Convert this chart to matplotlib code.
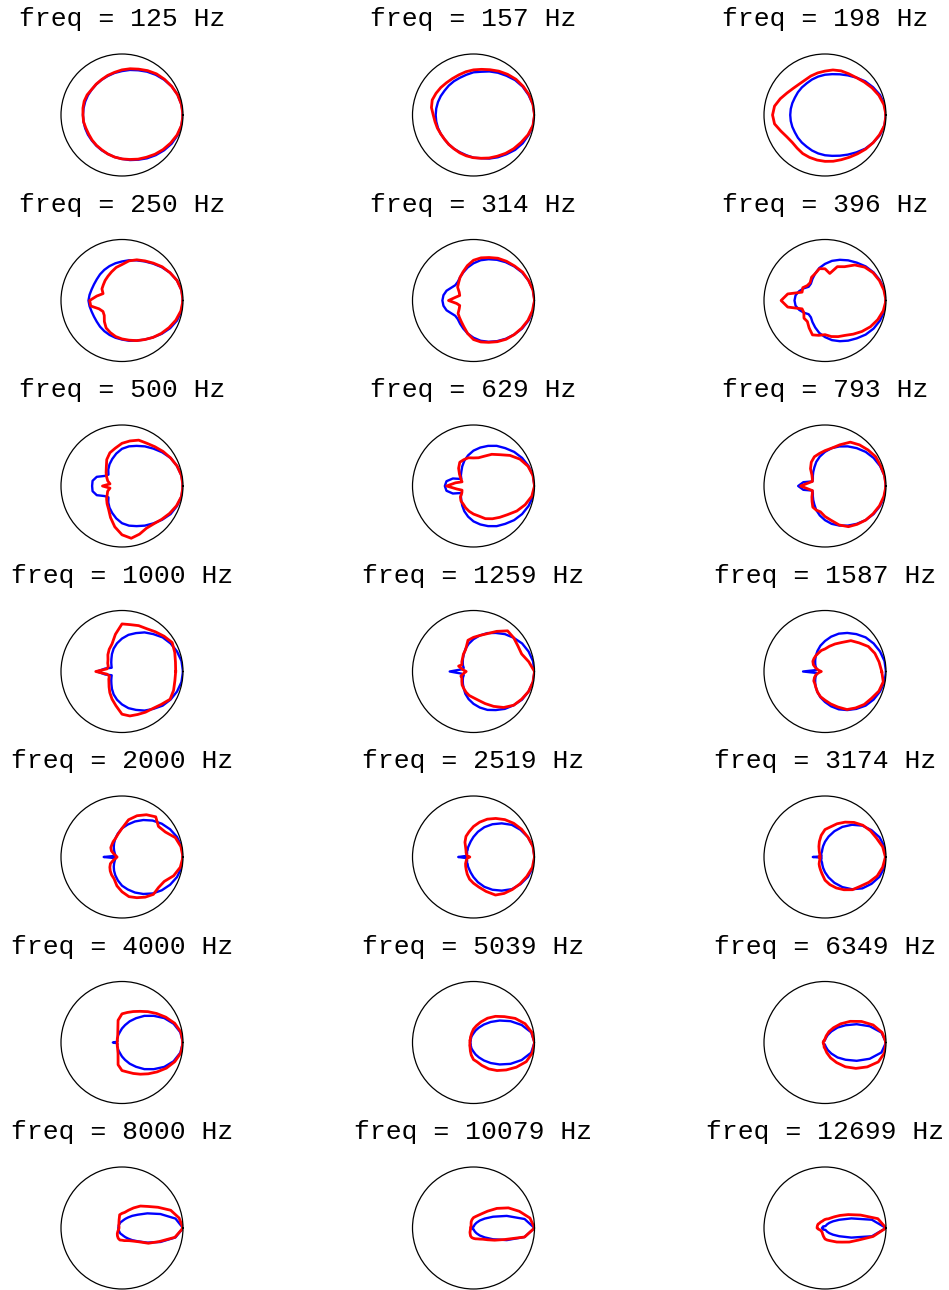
"""Directivity grid: model (blue) vs measurement (red), 7x3 polar panels."""
import numpy as np
import matplotlib; matplotlib.use("Agg")
import matplotlib.pyplot as plt

freqs = [125, 157, 198, 250, 314, 396, 500, 629, 793, 1000, 1259, 1587,
         2000, 2519, 3174, 4000, 5039, 6349, 8000, 10079, 12699]

# angle grids (deg): blue is symmetric, read on 0..180 and mirrored
half_deg = [0, 10, 20, 30, 40, 50, 60, 70, 80, 90, 100, 110, 120, 130, 140, 150, 160, 170, 180]
full_deg = [0, 10, 20, 30, 40, 50, 60, 70, 80, 90, 100, 110, 120, 130, 140, 150, 160, 170,
            180, 190, 200, 210, 220, 230, 240, 250, 260, 270, 280, 290, 300, 310, 320, 330, 340, 350]

# model (blue), normalised radius on 0..180 deg
b125 = [1.0, .99, .97, .94, .90, .86, .82, .78, .75, .72, .70, .68, .667, .656, .648, .645, .642, .64, .64]
b157 = [1.0, .99, .96, .93, .89, .84, .80, .76, .72, .70, .67, .65, .64, .63, .62, .62, .62, .62, .62]
b198 = [1.0, .99, .96, .91, .86, .80, .75, .71, .68, .66, .64, .62, .60, .59, .58, .57, .57, .57, .57]
b250 = [1.0, .99, .96, .91, .85, .79, .74, .70, .67, .64, .62, .60, .58, .56, .54, .53, .53, .54, .55]
b314 = [1.0, .99, .96, .92, .87, .82, .77, .72, .67, .61, .55, .49, .44, .40, .39, .42, .47, .50, .51]
b396 = [1.0, .99, .96, .92, .87, .81, .76, .71, .66, .60, .54, .47, .41, .36, .35, .40, .45, .49, .50]
b500 = [1.0, .99, .96, .92, .86, .80, .75, .70, .66, .61, .54, .47, .41, .35, .29, .33, .44, .49, .49]
b629 = [1.0, .99, .96, .92, .87, .81, .76, .70, .64, .58, .51, .44, .37, .31, .27, .23, .36, .45, .47]
b793 = [1.0, .99, .96, .92, .87, .81, .75, .69, .63, .56, .49, .42, .35, .30, .26, .23, .22, .36, .44]
b1000 = [1.0, .99, .96, .92, .87, .80, .74, .67, .61, .54, .47, .40, .33, .27, .23, .20, .18, .28, .41]
b1259 = [1.0, .99, .96, .92, .86, .80, .73, .67, .60, .53, .46, .39, .32, .27, .23, .20, .17, .20, .39]
b1587 = [1.0, .99, .96, .92, .87, .80, .73, .66, .58, .50, .43, .36, .30, .25, .21, .18, .15, .14, .36]
b2000 = [1.0, .99, .96, .91, .85, .78, .70, .62, .54, .47, .39, .32, .26, .21, .17, .14, .12, .11, .30]
b2519 = [1.0, .99, .95, .89, .82, .72, .62, .52, .42, .33, .26, .21, .18, .15, .14, .12, .12, .11, .25]
b3174 = [1.0, .99, .95, .88, .80, .69, .57, .45, .34, .25, .18, .13, .10, .09, .08, .07, .06, .06, .20]
b4000 = [1.0, .97, .90, .80, .68, .57, .46, .37, .29, .23, .18, .15, .13, .11, .10, .09, .08, .08, .15]
b5039 = [1.0, .96, .84, .70, .56, .44, .34, .26, .20, .15, .12, .10, .08, .07, .06, .06, .05, .05, .05]
b6349 = [1.0, .94, .78, .60, .44, .32, .21, .13, .07, .04, .03, .03, .03, .03, .03, .03, .03, .03, .03]
b8000 = [1.0, .89, .67, .48, .34, .26, .20, .16, .13, .11, .10, .09, .08, .07, .07, .06, .06, .06, .06]
b10079 = [1.0, .85, .58, .37, .24, .16, .10, .06, .03, .02, .02, .02, .02, .02, .02, .02, .02, .02, .02]
b12699 = [1.0, .78, .46, .27, .17, .11, .07, .04, .03, .03, .03, .03, .03, .03, .04, .04, .04, .04, .05]

# measurement (red), normalised radius on 0..350 deg
r125 = [1.0, .99, .97, .94, .91, .88, .84, .80, .77, .74, .71, .69, .67, .66, .65, .66, .66, .65,
        .64, .64, .63, .63, .64, .65, .66, .68, .70, .72, .74, .77, .80, .84, .88, .92, .96, .99]
r157 = [1.0, .99, .97, .94, .91, .87, .83, .79, .76, .74, .72, .70, .69, .69, .70, .71, .72, .70,
        .66, .64, .63, .62, .62, .63, .64, .66, .68, .70, .72, .75, .78, .82, .86, .90, .95, .99]
r198 = [1.0, .98, .94, .89, .84, .80, .78, .77, .75, .72, .70, .68, .66, .66, .68, .72, .78, .84,
        .86, .84, .77, .72, .70, .71, .73, .74, .75, .76, .77, .78, .80, .83, .87, .91, .95, .99]
r250 = [1.0, .99, .96, .91, .86, .80, .75, .71, .66, .59, .55, .50, .46, .43, .40, .38, .33, .42,
        .53, .52, .40, .36, .38, .45, .52, .56, .60, .63, .66, .70, .74, .79, .84, .89, .94, .98]
r314 = [1.0, .99, .96, .93, .88, .84, .80, .75, .71, .66, .58, .50, .44, .38, .34, .27, .24, .30,
        .41, .28, .24, .27, .33, .36, .40, .46, .55, .64, .69, .73, .78, .83, .87, .91, .95, .98]
r396 = [1.0, .98, .95, .91, .85, .76, .64, .59, .45, .52, .53, .47, .44, .38, .38, .42, .40, .62,
        .72, .62, .40, .40, .45, .45, .52, .60, .58, .56, .60, .63, .66, .72, .79, .86, .92, .97]
r500 = [1.0, .99, .96, .92, .88, .84, .81, .80, .75, .70, .63, .58, .50, .40, .34, .29, .25, .20,
        .32, .20, .25, .28, .33, .38, .44, .55, .68, .80, .87, .84, .80, .81, .85, .90, .95, .99]
r629 = [1.0, .99, .95, .88, .78, .67, .60, .52, .47, .46, .47, .46, .45, .38, .30, .24, .20, .30,
        .44, .28, .20, .22, .28, .32, .34, .38, .42, .46, .50, .57, .62, .67, .73, .82, .90, .97]
r793 = [1.0, .99, .97, .96, .92, .88, .83, .72, .63, .58, .54, .51, .45, .37, .28, .24, .22, .28,
        .40, .28, .22, .24, .28, .33, .40, .42, .43, .50, .57, .68, .77, .82, .87, .91, .95, .98]
r1000 = [.88, .89, .92, .95, .90, .85, .81, .80, .78, .78, .62, .48, .42, .36, .30, .27, .24, .25,
         .43, .25, .22, .25, .28, .33, .40, .48, .57, .70, .74, .75, .77, .79, .84, .91, .90, .88]
r1259 = [1.0, .92, .84, .84, .86, .87, .76, .66, .60, .56, .52, .38, .33, .28, .25, .22, .26, .18,
         .12, .16, .22, .22, .25, .29, .32, .36, .40, .43, .48, .56, .66, .77, .86, .91, .96, .99]
r1587 = [.93, .90, .87, .82, .73, .66, .55, .48, .42, .37, .35, .32, .30, .28, .26, .22, .16, .10,
         .06, .10, .16, .20, .24, .26, .30, .36, .42, .47, .54, .62, .72, .78, .84, .88, .94, .97]
r2000 = [1.0, .98, .93, .82, .78, .86, .80, .72, .62, .47, .38, .32, .29, .26, .24, .20, .14, .10,
         .08, .10, .15, .22, .26, .30, .34, .38, .48, .57, .66, .71, .76, .80, .78, .80, .90, .97]
r2519 = [1.0, .99, .95, .91, .86, .80, .73, .66, .58, .50, .42, .36, .28, .20, .16, .14, .12, .10,
         .06, .10, .12, .14, .17, .20, .24, .30, .37, .43, .50, .60, .72, .78, .83, .88, .93, .98]
r3174 = [.99, .96, .90, .86, .81, .74, .66, .58, .50, .45, .36, .27, .20, .15, .12, .10, .09, .08,
         .10, .08, .09, .10, .12, .15, .18, .22, .28, .38, .46, .54, .62, .70, .75, .83, .91, .96]
r4000 = [1.0, .98, .92, .83, .74, .66, .59, .54, .50, .47, .37, .20, .14, .11, .10, .09, .08, .08,
         .08, .08, .08, .09, .10, .11, .14, .19, .37, .46, .49, .54, .60, .67, .75, .84, .92, .98]
r5039 = [1.0, .97, .90, .79, .66, .56, .46, .36, .28, .22, .16, .12, .10, .08, .07, .07, .06, .06,
         .06, .06, .06, .07, .08, .09, .11, .15, .21, .28, .32, .40, .50, .60, .70, .81, .92, .98]
r6349 = [1.0, .95, .84, .69, .54, .40, .28, .19, .11, .06, .04, .04, .03, .03, .03, .03, .03, .03,
         .03, .03, .03, .03, .03, .03, .04, .05, .08, .10, .17, .27, .38, .52, .66, .80, .93, .99]
r8000 = [1.0, .95, .85, .68, .55, .47, .38, .31, .26, .24, .22, .14, .10, .08, .07, .06, .05, .05,
         .05, .05, .06, .07, .09, .12, .15, .18, .20, .20, .21, .22, .24, .28, .35, .50, .65, .88]
r10079 = [1.0, .94, .80, .66, .50, .36, .27, .22, .19, .17, .14, .11, .08, .06, .05, .05, .05, .05,
          .05, .05, .05, .06, .07, .09, .11, .14, .16, .17, .18, .19, .21, .24, .30, .40, .55, .85]
r12699 = [1.0, .88, .62, .44, .32, .24, .19, .16, .15, .14, .13, .12, .12, .12, .12, .13, .13, .13,
          .13, .11, .09, .08, .08, .08, .09, .11, .14, .18, .20, .22, .25, .30, .36, .46, .58, .80]

blue = [b125, b157, b198, b250, b314, b396, b500, b629, b793, b1000, b1259, b1587,
        b2000, b2519, b3174, b4000, b5039, b6349, b8000, b10079, b12699]
red = [r125, r157, r198, r250, r314, r396, r500, r629, r793, r1000, r1259, r1587,
       r2000, r2519, r3174, r4000, r5039, r6349, r8000, r10079, r12699]


def closed(deg, r):
    th = np.deg2rad(list(deg) + [360])
    return th, list(r) + [r[0]]


# blue: mirror the 0..180 reading onto 190..350
blue_deg = half_deg + [360 - d for d in half_deg[-2:0:-1]]

fig, axes = plt.subplots(7, 3, figsize=(9.49, 12.9), dpi=100,
                         subplot_kw={"projection": "polar"})
fig.subplots_adjust(left=61/949, right=886/949, top=1-54/1290, bottom=1-1289/1290,
                    wspace=229.5/122, hspace=63.5/122)

for ax, f, b, r in zip(axes.flat, freqs, blue, red):
    bfull = b + b[-2:0:-1]
    ax.plot(*closed(blue_deg, bfull), color="#0000ff", lw=1.7)
    ax.plot(*closed(full_deg, r), color="#ff0000", lw=2.0)
    ax.set_rmax(1.0); ax.set_rmin(0.0)
    ax.set_xticks([]); ax.set_yticks([])
    ax.grid(False)
    ax.spines["polar"].set_linewidth(0.9)
    ax.spines["polar"].set_color("black")
    ax.set_title(f"freq = {f} Hz", fontsize=19, family="Liberation Mono", pad=20)

fig.savefig("out.png", dpi=100)
